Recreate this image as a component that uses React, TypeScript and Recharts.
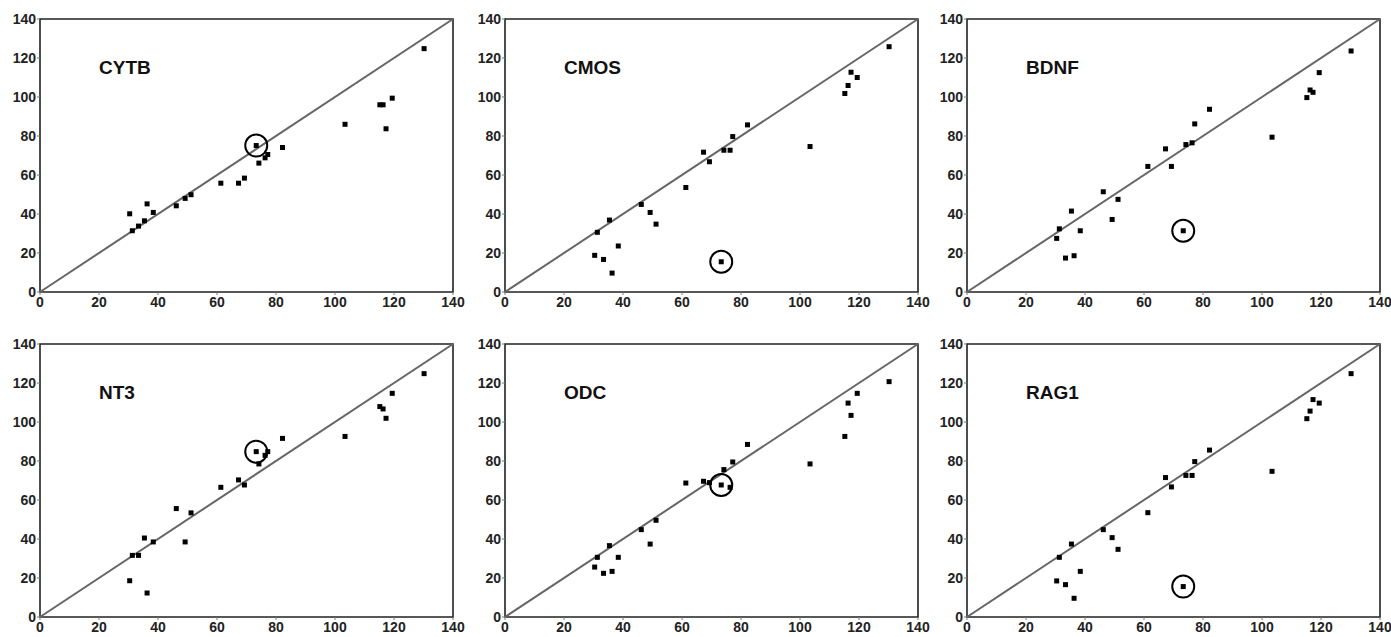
import { ScatterChart, Scatter, XAxis, YAxis, ReferenceLine, ReferenceArea, ReferenceDot } from "recharts";

// shared x values (same samples in every panel)
const xValues = [30.4, 31.3, 33.4, 35.4, 36.3, 38.4, 46.2, 49.2, 51.2, 61.3, 67.3, 69.3, 73.3, 74.2, 76.3, 77.2, 82.2, 103.4, 115.2, 116.3, 117.3, 119.4, 130.2];

const cytb = [40.1, 31.4, 33.8, 36.5, 45.2, 40.8, 44.2, 48, 49.9, 55.8, 55.8, 58.4, 75.1, 66.1, 68.8, 70.5, 74.1, 86, 96, 96, 83.7, 99.4, 124.8];
const cmos = [18.8, 30.6, 16.7, 36.9, 9.7, 23.6, 44.9, 40.8, 34.8, 53.6, 71.7, 66.8, 15.5, 72.7, 72.7, 79.7, 85.7, 74.6, 101.8, 105.9, 112.7, 110, 125.8];
const bdnf = [27.5, 32.4, 17.4, 41.5, 18.6, 31.4, 51.4, 37.2, 47.5, 64.4, 73.4, 64.4, 31.4, 75.6, 76.5, 86.2, 93.7, 79.4, 99.7, 103.6, 102.4, 112.5, 123.6];
const nt3 = [18.6, 31.6, 31.6, 40.5, 12.3, 38.5, 55.6, 38.5, 53.4, 66.5, 70.3, 67.7, 84.8, 78.5, 82.9, 84.8, 91.6, 92.6, 107.9, 106.7, 101.9, 114.7, 124.8];
const odc = [25.6, 30.6, 22.4, 36.6, 23.4, 30.6, 44.8, 37.4, 49.6, 68.7, 69.6, 68.9, 67.7, 75.6, 66.5, 79.5, 88.5, 78.5, 92.6, 109.7, 103.4, 114.7, 120.7];
const rag1 = [18.5, 30.6, 16.6, 37.4, 9.6, 23.4, 44.8, 40.7, 34.7, 53.5, 71.5, 66.7, 15.6, 72.6, 72.6, 79.7, 85.6, 74.7, 101.7, 105.6, 111.5, 109.7, 124.8];

const genes = ["CYTB", "CMOS", "BDNF", "NT3", "ODC", "RAG1"];
const series = [cytb, cmos, bdnf, nt3, odc, rag1];

// index of the circled sample
const highlighted = 12;

const ticks = [0, 20, 40, 60, 80, 100, 120, 140];

const tickStyle = { fontSize: 14, fontWeight: "bold", fill: "#222", fontFamily: "'Liberation Sans', Arial, sans-serif" };

const Marker = (props: any) => {
  const { cx, cy, payload } = props;
  return (
    <g>
      <rect x={cx - 2.5} y={cy - 2.5} width={5} height={5} fill="#000" />
      {payload.hl && <circle cx={cx} cy={cy} r={11} fill="none" stroke="#000" strokeWidth={2} />}
    </g>
  );
};

const Panel = ({ name, values }: { name: string; values: number[] }) => {
  const data = xValues.map((x, i) => ({ x, y: values[i], hl: i === highlighted }));
  return (
    <ScatterChart width={464} height={318} margin={{ top: 19, right: 11, bottom: 6, left: 10 }}>
      <XAxis
        type="number"
        dataKey="x"
        domain={[0, 140]}
        ticks={ticks}
        axisLine={false}
        tickLine={{ stroke: "#777" }}
        tickSize={3}
        tickMargin={2}
        height={20}
        interval={0}
        tick={tickStyle}
      />
      <YAxis
        type="number"
        dataKey="y"
        domain={[0, 140]}
        ticks={ticks}
        axisLine={false}
        tickLine={{ stroke: "#777" }}
        tickSize={3}
        tickMargin={1}
        width={30}
        interval={0}
        tick={tickStyle}
      />
      <ReferenceArea x1={0} x2={140} y1={0} y2={140} fill="none" stroke="#222" strokeWidth={1.6} fillOpacity={0} />
      <ReferenceLine segment={[{ x: 0, y: 0 }, { x: 140, y: 140 }]} stroke="#666" strokeWidth={2} />
      <ReferenceDot
        x={20}
        y={115.5}
        r={0}
        fill="none"
        stroke="none"
        label={{ value: name, position: "right", offset: 0, fontSize: 19, fontWeight: "bold", fill: "#111", fontFamily: "'Liberation Sans', Arial, sans-serif" }}
      />
      <Scatter data={data} shape={<Marker />} isAnimationActive={false} />
    </ScatterChart>
  );
};

const lefts = [0, 465, 927];
const tops = [0, 325];

export default function App() {
  return (
    <div style={{ position: "absolute", left: 0, top: 0, width: 1391, height: 637, background: "#fff" }}>
      <style>{".recharts-surface { overflow: visible; }"}</style>
      {genes.map((g, i) => (
        <div key={g} style={{ position: "absolute", left: lefts[i % 3], top: tops[Math.floor(i / 3)] }}>
          <Panel name={g} values={series[i]} />
        </div>
      ))}
    </div>
  );
}
